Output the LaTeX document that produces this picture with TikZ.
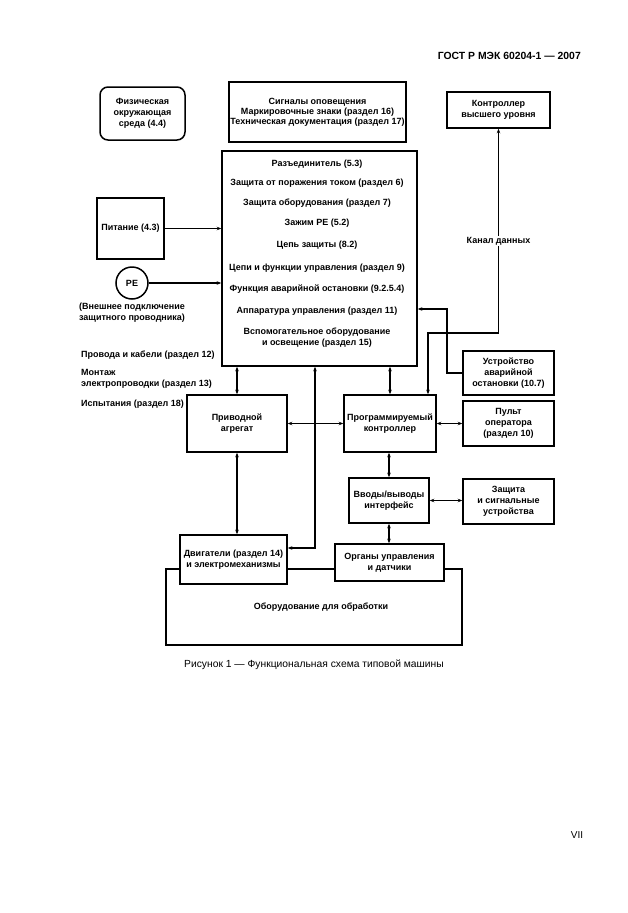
\documentclass[tikz,border=0pt]{standalone}
\usepackage{fontspec}
\setmainfont{Liberation Sans}
\usetikzlibrary{arrows.meta}
\newcommand\dfont{\fontsize{9}{10.8}\selectfont\bfseries}
\newcommand\dfonttight{\fontsize{9}{9.8}\selectfont\bfseries}
\begin{document}
\begin{tikzpicture}[x=1pt,y=-1pt,
  box/.style={draw, line width=1.5pt, fill=white, inner sep=0pt, align=center, font=\dfont},
  txt/.style={inner sep=0pt, align=center, font=\dfont},
  ltxt/.style={inner sep=0pt, anchor=west, align=left, font=\dfont},
  tip/.tip={Stealth[length=4.5pt,width=3.5pt]},
  conn/.style={line width=1.1pt, tip-tip},
  oneway/.style={line width=1.1pt, -tip}]
\fill[white] (0,0) rectangle (628,913);
\useasboundingbox (0,0) rectangle (628,913);

% header and footer
\node[inner sep=0pt, anchor=east, font=\fontsize{10.4}{12}\selectfont\bfseries] (hdr) at (581,56) {ГОСТ Р МЭК 60204-1 — 2007};
\node[inner sep=0pt, font=\fontsize{10.3}{12}\selectfont] (cap) at (314,665) {Рисунок 1 — Функциональная схема типовой машины};
\node[inner sep=0pt, font=\fontsize{10}{12}\selectfont] (pg) at (577,835) {VII};

% big processing equipment box
\draw[line width=1.5pt] (166,569) rectangle (462,645);
\node[txt] (bigt) at (321,607) {Оборудование для обработки};

% boxes
\node[box, rounded corners=8pt, minimum width=85pt, minimum height=53pt] (fiz) at (142.5,113.5) {Физическая\\окружающая\\среда (4.4)};
\node[box, font=\dfonttight, minimum width=177pt, minimum height=60pt] (sig) at (317.5,112) {Сигналы оповещения\\Маркировочные знаки (раздел 16)\\Техническая документация (раздел 17)};
\node[box, minimum width=103pt, minimum height=36pt] (ctrl) at (498.5,110) {Контроллер\\высшего уровня};
\node[box, minimum width=195pt, minimum height=215pt] (main) at (319.5,258.5) {};
\node[box, minimum width=67pt, minimum height=61pt] (pit) at (130.5,228.5) {Питание (4.3)};
\node[box, circle, minimum size=32pt] (pe) at (132,283) {PE};
\node[box, minimum width=100pt, minimum height=57pt] (priv) at (237,423.5) {Приводной\\агрегат};
\node[box, minimum width=92pt, minimum height=57pt] (prog) at (390,423.5) {Программируемый\\контроллер};
\node[box, minimum width=91pt, minimum height=44pt] (ust) at (508.5,373) {Устройство\\аварийной\\остановки (10.7)};
\node[box, minimum width=91pt, minimum height=45pt] (pult) at (508.5,423.5) {Пульт\\оператора\\(раздел 10)};
\node[box, minimum width=80pt, minimum height=45pt] (vvod) at (389,500.5) {Вводы/выводы\\интерфейс};
\node[box, minimum width=91pt, minimum height=45pt] (zash) at (508.5,501.5) {Защита\\и сигнальные\\устройства};
\node[box, minimum width=107pt, minimum height=49pt] (dvig) at (233.5,559.5) {Двигатели (раздел 14)\\и электромеханизмы};
\node[box, minimum width=109pt, minimum height=37pt] (organ) at (389.5,562.5) {Органы управления\\и датчики};

% main box contents
\node[txt] (m1) at (317,164) {Разъединитель (5.3)};
\node[txt] (m2) at (317,183) {Защита от поражения током (раздел 6)};
\node[txt] (m3) at (317,203) {Защита оборудования (раздел 7)};
\node[txt] (m4) at (317,223) {Зажим PE (5.2)};
\node[txt] (m5) at (317,245) {Цепь защиты (8.2)};
\node[txt] (m6) at (317,268) {Цепи и функции управления (раздел 9)};
\node[txt] (m7) at (317,289) {Функция аварийной остановки (9.2.5.4)};
\node[txt] (m8) at (317,311) {Аппаратура управления (раздел 11)};
\node[txt] (m9) at (317,338) {Вспомогательное оборудование\\и освещение (раздел 15)};

% free texts
\node[txt] (pet) at (132,313) {(Внешнее подключение\\защитного проводника)};
\node[ltxt] (l1) at (81,355) {Провода и кабели (раздел 12)};
\node[ltxt] (l2) at (81,378.5) {Монтаж\\электропроводки (раздел 13)};
\node[ltxt] (l3) at (81,404) {Испытания (раздел 18)};

% connectors
\draw[oneway] (pit.east) -- (pit.east -| main.west);
\draw[oneway] (pe.east) -- (pe.east -| main.west);
\coordinate (kc) at (428,333);
\draw[conn] (ctrl.south) |- (kc) -- (kc |- prog.north);
\node[txt, fill=white, inner sep=1pt] (kan) at (498.5,241) {Канал данных};
\coordinate (uc) at (447,309);
\draw[oneway] (ust.west) -| (uc) -- (uc -| main.east);
\draw[conn] (priv.north |- main.south) -- (priv.north);
\draw[conn] (prog.north |- main.south) -- (prog.north);
\coordinate (dc) at (315,548);
\draw[conn] (dc |- main.south) -- (dc) -- (dc -| dvig.east);
\draw[conn] (priv.east) -- (prog.west);
\draw[conn] (prog.east) -- (pult.west);
\draw[conn] (vvod.north |- prog.south) -- (vvod.north);
\draw[conn] (vvod.east) -- (vvod.east -| zash.west);
\draw[conn] (vvod.south) -- (vvod.south |- organ.north);
\draw[conn] (priv.south) -- (priv.south |- dvig.north);
\end{tikzpicture}
\end{document}
